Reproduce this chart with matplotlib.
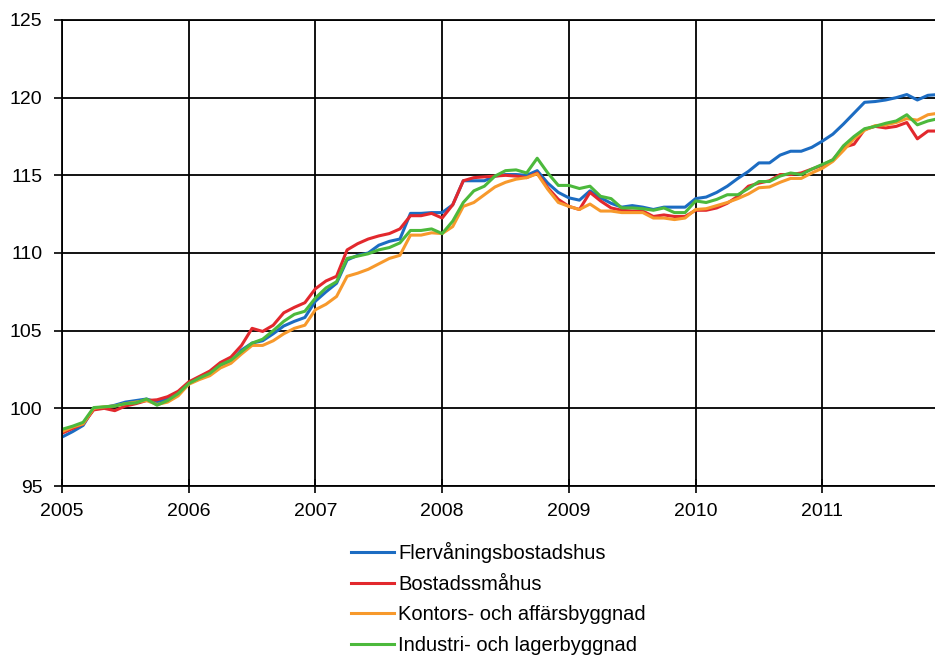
import numpy as np
import matplotlib
matplotlib.use('Agg')
import matplotlib.pyplot as plt

# Monthly index values, Jan 2005 - Dec 2011
years = [2005, 2006, 2007, 2008, 2009, 2010, 2011]

flervaning = [98.15, 98.5, 98.9, 100.0, 100.05, 100.2, 100.4, 100.5, 100.6, 100.4, 100.6, 101.0,
              101.6, 101.9, 102.2, 102.7, 103.0, 103.75, 104.2, 104.35, 104.8, 105.3, 105.6, 105.85,
              106.9, 107.5, 108.05, 109.55, 109.85, 110.0, 110.5, 110.75, 110.9, 112.55, 112.55, 112.6,
              112.6, 113.1, 114.65, 114.65, 114.65, 114.95, 115.05, 115.05, 115.0, 115.3, 114.5, 113.9,
              113.55, 113.4, 114.0, 113.55, 113.2, 112.95, 113.05, 112.95, 112.8, 112.95, 112.95, 112.95,
              113.5, 113.6, 113.9, 114.3, 114.8, 115.25, 115.8, 115.8, 116.3, 116.55, 116.55, 116.8,
              117.2, 117.65, 118.3, 119.0, 119.7, 119.75, 119.85, 120.0, 120.2, 119.85, 120.15, 120.2]

smahus = [98.4, 98.7, 99.0, 99.9, 100.0, 99.85, 100.15, 100.3, 100.5, 100.55, 100.75, 101.1,
          101.7, 102.05, 102.4, 102.95, 103.3, 104.05, 105.15, 104.95, 105.35, 106.15, 106.5, 106.8,
          107.7, 108.2, 108.5, 110.2, 110.6, 110.9, 111.1, 111.25, 111.55, 112.4, 112.4, 112.55,
          112.25, 113.1, 114.65, 114.85, 114.9, 114.95, 115.0, 114.95, 114.85, 115.15, 114.2, 113.45,
          113.0, 112.8, 113.9, 113.35, 112.9, 112.75, 112.7, 112.7, 112.35, 112.45, 112.35, 112.35,
          112.75, 112.75, 112.9, 113.2, 113.65, 114.3, 114.5, 114.65, 115.05, 115.05, 115.15, 115.4,
          115.65, 116.0, 116.8, 117.0, 117.95, 118.15, 118.05, 118.15, 118.4, 117.35, 117.85, 117.85]

kontor = [98.5, 98.8, 99.0, 100.0, 100.1, 100.15, 100.3, 100.4, 100.5, 100.25, 100.4, 100.8,
          101.55, 101.85, 102.1, 102.6, 102.9, 103.5, 104.05, 104.05, 104.35, 104.8, 105.15, 105.35,
          106.35, 106.7, 107.2, 108.5, 108.7, 108.95, 109.3, 109.65, 109.85, 111.15, 111.15, 111.3,
          111.25, 111.7, 113.0, 113.25, 113.75, 114.25, 114.55, 114.75, 114.85, 115.1, 114.1, 113.25,
          113.0, 112.8, 113.15, 112.7, 112.7, 112.6, 112.6, 112.6, 112.25, 112.25, 112.15, 112.25,
          112.8, 112.85, 113.05, 113.25, 113.5, 113.8, 114.2, 114.25, 114.55, 114.8, 114.8, 115.15,
          115.45, 115.9, 116.6, 117.35, 117.9, 118.2, 118.25, 118.4, 118.65, 118.55, 118.9, 119.0]

industri = [98.65, 98.85, 99.1, 100.05, 100.1, 100.15, 100.3, 100.35, 100.6, 100.2, 100.5, 100.95,
            101.6, 101.95, 102.25, 102.8, 103.1, 103.65, 104.2, 104.45, 105.0, 105.6, 106.05, 106.25,
            107.1, 107.75, 108.15, 109.65, 109.8, 109.95, 110.2, 110.35, 110.65, 111.45, 111.45, 111.55,
            111.25, 112.05, 113.25, 114.0, 114.3, 114.95, 115.3, 115.35, 115.15, 116.1, 115.15, 114.35,
            114.35, 114.15, 114.3, 113.65, 113.5, 112.9, 112.9, 112.85, 112.75, 112.9, 112.6, 112.6,
            113.35, 113.25, 113.45, 113.75, 113.75, 114.15, 114.6, 114.6, 114.95, 115.15, 115.05, 115.4,
            115.7, 116.0, 116.9, 117.5, 118.0, 118.15, 118.35, 118.5, 118.9, 118.25, 118.5, 118.65]

labels = ['Flervåningsbostadshus', 'Bostadssmåhus',
          'Kontors- och affärsbyggnad', 'Industri- och lagerbyggnad']
colors = ['#1c6cc2', '#e2282d', '#f7992c', '#4cb93c']

plt.rcParams['font.family'] = ['Liberation Sans', 'DejaVu Sans']

x = 2005 + np.arange(len(flervaning)) / 12.0

fig = plt.figure(figsize=(9.35, 6.59), dpi=100)
ax = fig.add_axes([0.0663, 0.2625, 0.9337, 0.7072])

for series, label, color in zip([flervaning, smahus, kontor, industri], labels, colors):
    ax.plot(x, series, color=color, linewidth=2.2, label=label, solid_joinstyle='round')

ax.set_xlim(2005, 2005 + 82.67 / 12)
ax.set_ylim(95, 125)
ax.set_xticks(years)
ax.set_xticklabels([str(y) for y in years])
ax.set_yticks(range(95, 126, 5))

ax.grid(True, color='black', linewidth=1.3)
ax.set_axisbelow(True)
for side in ['left', 'bottom', 'top']:
    ax.spines[side].set_color('black')
    ax.spines[side].set_linewidth(1.3)
ax.spines['right'].set_visible(False)

ax.tick_params(axis='x', direction='inout', length=10, width=1.2, labelsize=14, pad=7)
ax.tick_params(axis='y', direction='out', length=6, width=1.2, labelsize=14, pad=8)

ax.legend(loc='upper center', bbox_to_anchor=(0.5, -0.107), frameon=False,
          fontsize=14.5, handlelength=2.15, handletextpad=0.2, labelspacing=0.58,
          borderaxespad=0, borderpad=0.3)

plt.savefig('out.png', dpi=100)
